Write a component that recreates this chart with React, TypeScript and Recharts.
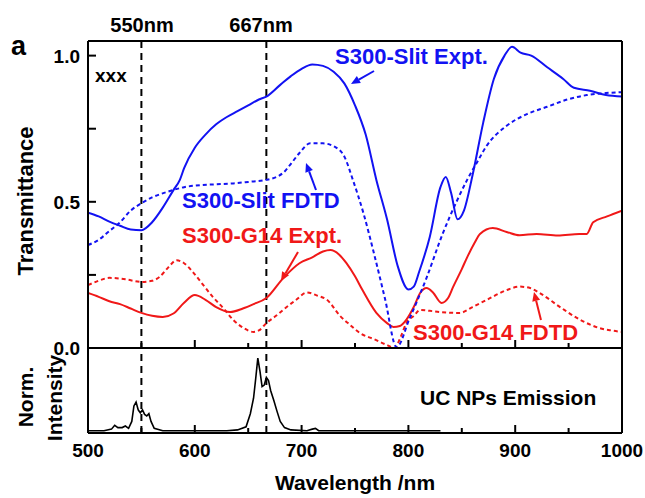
import React from 'react';
import { LineChart, Line, XAxis, YAxis, ReferenceLine } from 'recharts';

// ---------- data ----------
const slitExptX = [500, 510, 520, 530, 540, 550, 560, 570, 580, 586, 590, 600, 610, 620, 630, 640, 650, 660, 667, 680, 690, 700, 710, 720, 730, 740, 750, 760, 770, 780, 790, 800, 805, 810, 820, 830, 835, 840, 846, 852, 860, 870, 880, 890, 897, 905, 915, 930, 945, 955, 970, 985, 1000];
const slitExptY = [0.463, 0.45, 0.432, 0.418, 0.405, 0.403, 0.43, 0.48, 0.54, 0.575, 0.615, 0.685, 0.73, 0.765, 0.79, 0.81, 0.83, 0.85, 0.86, 0.9, 0.93, 0.955, 0.97, 0.965, 0.945, 0.905, 0.83, 0.73, 0.575, 0.44, 0.28, 0.2, 0.21, 0.26, 0.38, 0.55, 0.585, 0.53, 0.44, 0.47, 0.59, 0.77, 0.92, 1.0, 1.03, 1.01, 1.0, 0.96, 0.92, 0.89, 0.88, 0.865, 0.86];

const slitFdtdX = [500, 510, 520, 530, 540, 550, 560, 575, 590, 605, 620, 636, 650, 667, 683, 690, 698, 708, 720, 730, 740, 748, 758, 768, 778, 789, 801, 817, 832, 845, 855, 865, 873, 892, 911, 930, 949, 967, 985, 1000];
const slitFdtdY = [0.352, 0.37, 0.4, 0.43, 0.47, 0.495, 0.515, 0.535, 0.55, 0.557, 0.56, 0.563, 0.568, 0.575, 0.6, 0.63, 0.667, 0.7, 0.7, 0.69, 0.655, 0.575, 0.46, 0.32, 0.17, 0.003, 0.1, 0.24, 0.39, 0.5, 0.575, 0.64, 0.69, 0.76, 0.8, 0.825, 0.85, 0.865, 0.872, 0.875];

const g14ExptX = [500, 510, 520, 530, 540, 550, 560, 570, 580, 590, 600, 610, 620, 633, 645, 655, 667, 683, 698, 710, 720, 727, 735, 742, 750, 757, 770, 780, 786, 792, 798, 805, 811, 817, 823, 831, 837, 842, 850, 855, 862, 867, 879, 892, 904, 920, 940, 960, 967, 973, 986, 1000];
const g14ExptY = [0.188, 0.175, 0.16, 0.15, 0.135, 0.12, 0.11, 0.106, 0.118, 0.155, 0.181, 0.165, 0.14, 0.123, 0.135, 0.15, 0.171, 0.24, 0.29, 0.31, 0.33, 0.335, 0.32, 0.29, 0.245, 0.198, 0.12, 0.085, 0.072, 0.075, 0.096, 0.14, 0.188, 0.205, 0.19, 0.154, 0.17, 0.21, 0.27, 0.31, 0.36, 0.39, 0.41, 0.397, 0.386, 0.39, 0.385, 0.39, 0.39, 0.43, 0.45, 0.47];

const g14FdtdX = [500, 510, 520, 535, 550, 560, 567, 575, 583, 590, 599, 608, 617, 627, 636, 645, 655, 660, 667, 676, 686, 695, 705, 714, 724, 736, 745, 755, 768, 780, 787, 793, 798, 805, 811, 820, 830, 848, 860, 873, 892, 904, 914, 923, 942, 961, 979, 990, 1000];
const g14FdtdY = [0.215, 0.23, 0.24, 0.235, 0.226, 0.23, 0.243, 0.275, 0.3, 0.29, 0.256, 0.215, 0.174, 0.135, 0.096, 0.07, 0.055, 0.06, 0.085, 0.11, 0.14, 0.165, 0.19, 0.18, 0.164, 0.11, 0.08, 0.05, 0.03, 0.01, 0.0, 0.04, 0.085, 0.11, 0.13, 0.127, 0.123, 0.12, 0.14, 0.164, 0.198, 0.21, 0.205, 0.188, 0.14, 0.096, 0.068, 0.06, 0.055];

const emissionX = [500, 515, 522, 525, 528, 532, 535, 538, 541, 543, 545, 547, 549, 551, 553, 555, 557, 559, 562, 570, 600, 630, 640, 648, 652, 655, 657, 659, 661, 663, 665, 667, 669, 671, 674, 677, 680, 684, 690, 705, 710, 713, 716, 760, 800, 830];
const emissionY = [0.03, 0.03, 0.05, 0.1, 0.07, 0.07, 0.09, 0.06, 0.15, 0.35, 0.4, 0.3, 0.26, 0.3, 0.24, 0.22, 0.25, 0.15, 0.06, 0.03, 0.03, 0.03, 0.04, 0.08, 0.25, 0.45, 0.7, 0.97, 0.8, 0.6, 0.62, 0.72, 0.68, 0.55, 0.42, 0.28, 0.15, 0.07, 0.04, 0.03, 0.05, 0.06, 0.03, 0.03, 0.03, 0.03];

const xTicks = [500, 550, 600, 650, 700, 750, 800, 850, 900, 950, 1000];
const xLabelTicks = [500, 600, 700, 800, 900, 1000];
const yTicks = [0, 0.25, 0.5, 0.75, 1.0];
const yLabelTicks = [0, 0.5, 1.0];
const markerX = [550, 667];
const markerLabels = ['550nm', '667nm'];

const toData = (xs: number[], ys: number[]) => xs.map((x, i) => ({ x, y: ys[i] }));

// ---------- styles ----------
const FONT = '"Liberation Sans", Arial, Helvetica, sans-serif';
const BLUE = '#1212f2';
const RED = '#f01818';
const W = 645;
const AX = { stroke: '#000', strokeWidth: 2 };

const XTickUp = (props: any) => {
  const { x, y, payload } = props;
  const major = xLabelTicks.includes(payload.value);
  return <line x1={x} x2={x} y1={y} y2={y - (major ? 8 : 5)} stroke="#000" strokeWidth={2} />;
};

const XTickBottom = (props: any) => {
  const { x, y, payload } = props;
  const major = xLabelTicks.includes(payload.value);
  return (
    <g>
      <line x1={x} x2={x} y1={y} y2={y - (major ? 8 : 5)} stroke="#000" strokeWidth={2} />
      {major && (
        <text x={x} y={y + 24} textAnchor="middle" fontFamily={FONT} fontWeight="bold" fontSize={19} fill="#000">
          {payload.value}
        </text>
      )}
    </g>
  );
};

const YTickLeft = (props: any) => {
  const { x, y, payload } = props;
  const lab = yLabelTicks.includes(payload.value);
  return (
    <g>
      <line x1={x} x2={x + 8} y1={y} y2={y} stroke="#000" strokeWidth={2} />
      {lab && (
        <text x={x - 8} y={y + 7} textAnchor="end" fontFamily={FONT} fontWeight="bold" fontSize={19} fill="#000">
          {payload.value.toFixed(1)}
        </text>
      )}
    </g>
  );
};

const Arrow = ({ x1, y1, x2, y2, color }: any) => {
  const ang = Math.atan2(y2 - y1, x2 - x1);
  const len = 9;
  const half = 4;
  const bx = x2 - len * Math.cos(ang);
  const by = y2 - len * Math.sin(ang);
  const px = -Math.sin(ang) * half;
  const py = Math.cos(ang) * half;
  return (
    <g>
      <line x1={x1} y1={y1} x2={bx} y2={by} stroke={color} strokeWidth={2} />
      <polygon points={`${x2},${y2} ${bx + px},${by + py} ${bx - px},${by - py}`} fill={color} />
    </g>
  );
};

const txt = (s: string, x: number, y: number, color: string, size: number, anchor: any = 'start', extra: any = {}) => (
  <text x={x} y={y} fill={color} fontFamily={FONT} fontWeight="bold" fontSize={size} textAnchor={anchor} {...extra}>
    {s}
  </text>
);

export default function App() {
  return (
    <div style={{ position: 'absolute', left: 0, top: 0, width: W, height: 498, background: '#fff' }}>
      {/* Top panel: transmittance, plot area x 88..622, y 41..348 */}
      <div style={{ position: 'absolute', left: 0, top: 0 }}>
        <LineChart width={W} height={362} margin={{ top: 40, right: 22, left: 87, bottom: 13 }}>
          <XAxis
            type="number"
            dataKey="x"
            domain={[500, 1000]}
            ticks={xTicks}
            interval={0}
            allowDataOverflow
            height={1}
            tickSize={0}
            tickMargin={0}
            tickLine={false}
            tick={XTickUp}
            axisLine={AX}
          />
          <XAxis
            xAxisId="top"
            orientation="top"
            type="number"
            domain={[500, 1000]}
            height={1}
            tick={false}
            tickLine={false}
            axisLine={AX}
          />
          <YAxis
            type="number"
            domain={[0, 1.05]}
            ticks={yTicks}
            interval={0}
            allowDataOverflow
            width={1}
            tickSize={0}
            tickMargin={0}
            tickLine={false}
            tick={YTickLeft}
            axisLine={AX}
          />
          <YAxis
            yAxisId="right"
            orientation="right"
            type="number"
            domain={[0, 1.05]}
            width={1}
            tick={false}
            tickLine={false}
            axisLine={AX}
          />
          {markerX.map((m) => (
            <ReferenceLine key={m} x={m} stroke="#000" strokeWidth={2} strokeDasharray="7 5" />
          ))}
          <Line data={toData(g14FdtdX, g14FdtdY)} dataKey="y" type="monotone" dot={false} stroke={RED} strokeWidth={2} strokeDasharray="4 3" isAnimationActive={false} />
          <Line data={toData(g14ExptX, g14ExptY)} dataKey="y" type="monotone" dot={false} stroke={RED} strokeWidth={2} isAnimationActive={false} />
          <Line data={toData(slitFdtdX, slitFdtdY)} dataKey="y" type="monotone" dot={false} stroke={BLUE} strokeWidth={2} strokeDasharray="4 3" isAnimationActive={false} />
          <Line data={toData(slitExptX, slitExptY)} dataKey="y" type="monotone" dot={false} stroke={BLUE} strokeWidth={2} isAnimationActive={false} />
        </LineChart>
      </div>

      {/* Bottom panel: emission, plot area y 348..433 */}
      <div style={{ position: 'absolute', left: 0, top: 340 }}>
        <LineChart width={W} height={158} margin={{ top: 7, right: 22, left: 87, bottom: 64 }}>
          <XAxis
            type="number"
            dataKey="x"
            domain={[500, 1000]}
            ticks={xTicks}
            interval={0}
            allowDataOverflow
            height={1}
            tickSize={0}
            tickMargin={0}
            tickLine={false}
            tick={XTickBottom}
            axisLine={AX}
          />
          <XAxis
            xAxisId="top"
            orientation="top"
            type="number"
            domain={[500, 1000]}
            height={1}
            tick={false}
            tickLine={false}
            axisLine={AX}
          />
          <YAxis type="number" domain={[0, 1.1]} allowDataOverflow width={1} tick={false} tickLine={false} axisLine={AX} />
          <YAxis yAxisId="right" orientation="right" type="number" domain={[0, 1.1]} width={1} tick={false} tickLine={false} axisLine={AX} />
          {markerX.map((m) => (
            <ReferenceLine key={m} x={m} stroke="#000" strokeWidth={2} strokeDasharray="7 5" />
          ))}
          <Line data={toData(emissionX, emissionY)} dataKey="y" type="linear" dot={false} stroke="#000" strokeWidth={1.6} isAnimationActive={false} />
        </LineChart>
      </div>

      {/* Annotations */}
      <svg width={W} height={498} style={{ position: 'absolute', left: 0, top: 0, pointerEvents: 'none' }}>
        {txt('a', 11, 55, '#000', 27)}
        {txt(markerLabels[0], 142, 32, '#000', 20, 'middle')}
        {txt(markerLabels[1], 261, 32, '#000', 20, 'middle')}
        {txt('xxx', 95, 82, '#000', 19)}
        {txt('S300-Slit Expt.', 335, 64, BLUE, 22)}
        {txt('S300-Slit FDTD', 182, 208, BLUE, 22)}
        {txt('S300-G14 Expt.', 182, 243, RED, 22)}
        {txt('S300-G14 FDTD', 413, 340, RED, 22)}
        {txt('UC NPs Emission', 420, 405, '#000', 21)}
        {txt('Transmittance', 0, 0, '#000', 22, 'middle', { transform: 'translate(33,201) rotate(-90)' })}
        {txt('Norm.', 0, 0, '#000', 21, 'middle', { transform: 'translate(33,397) rotate(-90)' })}
        {txt('Intensity', 0, 0, '#000', 21, 'middle', { transform: 'translate(62,398) rotate(-90)' })}
        {txt('Wavelength /nm', 355, 490, '#000', 21, 'middle')}
        <Arrow x1={374} y1={71} x2={351} y2={84} color={BLUE} />
        <Arrow x1={316} y1={190} x2={306} y2={163} color={BLUE} />
        <Arrow x1={298} y1={252} x2={281} y2={281} color={RED} />
        <Arrow x1={541} y1={320} x2={534} y2={292} color={RED} />
      </svg>
    </div>
  );
}
